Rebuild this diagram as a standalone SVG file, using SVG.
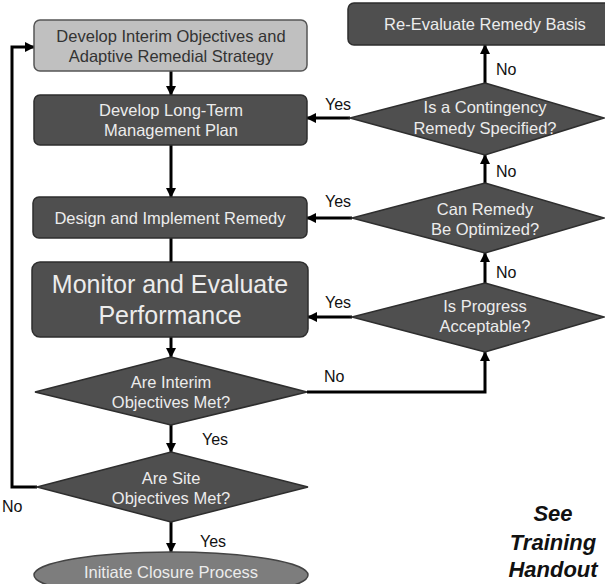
<svg xmlns="http://www.w3.org/2000/svg" width="605" height="584" viewBox="0 0 605 584">
<defs>
<marker id="ah" viewBox="0 0 10 10" refX="9" refY="5" markerWidth="3.4" markerHeight="3.4" orient="auto" markerUnits="strokeWidth">
<path d="M0,0 L10,5 L0,10 z" fill="#000"/>
</marker>
<style>
.box{fill:#4f4f4f;stroke:#2e2e2e;stroke-width:1.5}
.light{fill:#c0c0c0;stroke:#555;stroke-width:1.5}
.dia{fill:#4f4f4f;stroke:#2e2e2e;stroke-width:1.5}
.oval{fill:#7d7d7d;stroke:#444;stroke-width:1.5}
.t{font-family:"Liberation Sans",Arial,sans-serif;font-size:16.5px;fill:#ececec;text-anchor:middle}
.td{font-family:"Liberation Sans",Arial,sans-serif;font-size:16.5px;fill:#333;text-anchor:middle}
.big{font-size:25px}
.lbl{font-family:"Liberation Sans",Arial,sans-serif;font-size:16px;fill:#111}
.note{font-family:"Liberation Sans",Arial,sans-serif;font-size:22px;font-weight:bold;font-style:italic;fill:#111;text-anchor:middle}
.c{fill:none;stroke:#000;stroke-width:3}
.ca{fill:none;stroke:#000;stroke-width:3;marker-end:url(#ah)}
</style>
</defs>
<rect width="605" height="584" fill="#fff"/>

<g id="connectors">
<path class="ca" d="M171,71 V95"/>
<path class="ca" d="M171,145 V197"/>
<path class="c" d="M171,238 V262"/>
<path class="ca" d="M171,337 V357"/>
<path class="ca" d="M171,425 V452"/>
<path class="ca" d="M171,522 V552"/>
<path class="ca" d="M37,487 H12 V47 H34"/>
<path class="ca" d="M307,392 H485 V352"/>
<path class="ca" d="M352,317 H308"/>
<path class="ca" d="M485,283 V253"/>
<path class="ca" d="M352,218 H307"/>
<path class="ca" d="M485,183 V155"/>
<path class="ca" d="M350,118 H307"/>
<path class="ca" d="M485,83 V45"/>
<text class="lbl" x="202" y="445">Yes</text>
<text class="lbl" x="200" y="547">Yes</text>
<text class="lbl" x="2" y="512">No</text>
<text class="lbl" x="324" y="382">No</text>
<text class="lbl" x="325" y="308">Yes</text>
<text class="lbl" x="496" y="278">No</text>
<text class="lbl" x="325" y="207">Yes</text>
<text class="lbl" x="496" y="177">No</text>
<text class="lbl" x="325" y="110">Yes</text>
<text class="lbl" x="496" y="75">No</text>
</g>

<g id="n-interim">
<rect class="light" x="34" y="20" width="273" height="51" rx="6"/>
<text class="td" x="171" y="42">Develop Interim Objectives and</text>
<text class="td" x="171" y="62">Adaptive Remedial Strategy</text>
</g>
<g id="n-ltmp">
<rect class="box" x="34" y="95" width="273" height="50" rx="6"/>
<text class="t" x="171" y="116">Develop Long-Term</text>
<text class="t" x="171" y="136">Management Plan</text>
</g>
<g id="n-design">
<rect class="box" x="33" y="197" width="274" height="41" rx="6"/>
<text class="t" x="170" y="224">Design and Implement Remedy</text>
</g>
<g id="n-monitor">
<rect class="box" x="32" y="262" width="276" height="75" rx="8"/>
<text class="t big" x="170" y="293">Monitor and Evaluate</text>
<text class="t big" x="170" y="324">Performance</text>
</g>
<g id="n-interim-met">
<polygon class="dia" points="171,357 307,392 171,425 35,392"/>
<text class="t" x="171" y="388">Are Interim</text>
<text class="t" x="171" y="408">Objectives Met?</text>
</g>
<g id="n-site-met">
<polygon class="dia" points="171,452 308,487 171,522 37,487"/>
<text class="t" x="171" y="484">Are Site</text>
<text class="t" x="171" y="504">Objectives Met?</text>
</g>
<g id="n-closure">
<ellipse class="oval" cx="171" cy="575" rx="137" ry="23"/>
<text class="t" x="171" y="578">Initiate Closure Process</text>
</g>
<g id="n-reeval">
<rect class="box" x="348" y="3" width="262" height="42" rx="6"/>
<text class="t" x="485" y="30">Re-Evaluate Remedy Basis</text>
</g>
<g id="n-contingency">
<polygon class="dia" points="485,83 604,118 485,155 350,118"/>
<text class="t" x="485" y="113">Is a Contingency</text>
<text class="t" x="485" y="134">Remedy Specified?</text>
</g>
<g id="n-optimize">
<polygon class="dia" points="485,183 604,218 485,253 352,218"/>
<text class="t" x="485" y="215">Can Remedy</text>
<text class="t" x="485" y="235">Be Optimized?</text>
</g>
<g id="n-progress">
<polygon class="dia" points="485,283 604,317 485,352 352,317"/>
<text class="t" x="485" y="312">Is Progress</text>
<text class="t" x="485" y="332">Acceptable?</text>
</g>
<g id="note">
<text class="note" x="553" y="521">See</text>
<text class="note" x="553" y="550">Training</text>
<text class="note" x="553" y="577">Handout</text>
</g>
</svg>
